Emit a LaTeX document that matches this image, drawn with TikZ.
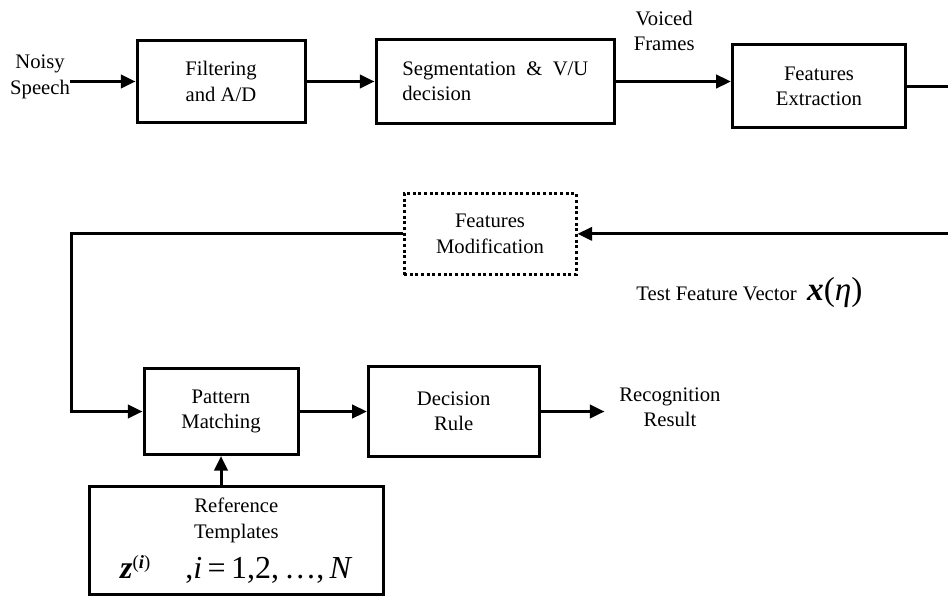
\documentclass[tikz,border=0pt]{standalone}
\usepackage{fontspec}
\setmainfont{Liberation Serif}
\usepackage{tikz}
\usetikzlibrary{positioning, arrows.meta}

\begin{document}
\begin{tikzpicture}[
    x=0.75pt, y=-0.75pt,
    every node/.style={font=\fontsize{15.5}{19}\selectfont},
    block/.style={rectangle, draw=black, line width=2.25pt, align=center},
    dotblock/.style={block, dash pattern=on 2.25pt off 2pt},
    lbl/.style={inner sep=0pt, align=center},
    arr/.style={-{Triangle[length=11pt, width=10pt]}, line width=2.25pt}
]
\useasboundingbox (0,0) rectangle (948,599);

% Blocks
\node[block, minimum width=126pt, minimum height=62pt] (filt) at (221,81.5) {Filtering\\and A/D};
\node[block, align=left, minimum width=179pt, minimum height=63pt, right=51pt of filt] (seg) {Segmentation~~\&~~V/U\\decision};
\node[block, minimum width=130pt, minimum height=62pt, right=86pt of seg, yshift=-3.5pt] (fe) {Features\\Extraction};
\node[dotblock, minimum width=129pt, minimum height=61pt, below=50pt of seg, xshift=-4pt] (mod) {Features\\Modification};
\node[block, minimum width=115.5pt, minimum height=64.5pt, below=182pt of filt] (pm) {Pattern\\Matching};
\node[block, minimum width=128pt, minimum height=68pt, right=50.5pt of pm] (dr) {Decision\\Rule};
\node[block, minimum width=220pt, minimum height=81pt, below=22pt of pm, xshift=11.5pt] (ref) {Reference\\Templates\\[9pt]
  {\fontsize{24}{26}\selectfont\textbf{\textit{z}}\raisebox{7pt}{\fontsize{14}{15}\selectfont(\textbf{\textit{i}})}\hspace{1.1em},\textit{i}\,=\,1,2,\,\ldots,\,\textit{N}}};

% Labels
\node[lbl, left=49pt of filt, yshift=3.4pt] (noisy) {Noisy\\Speech};
\node[lbl, above right=-10pt and 13pt of seg.north east] (voiced) {Voiced\\Frames};
\node[lbl, right=48pt of dr, inner xsep=11pt, yshift=3pt] (rec) {Recognition\\Result};
\node[lbl, below right=1pt and 44pt of mod.south east] (test) {Test Feature Vector\hspace{0.5em}{\fontsize{25}{28}\selectfont\textbf{\textit{x}}(\textit{η})}};
\coordinate (edge) at (951,0);

% Connections
\draw[arr] (noisy.east |- filt.west) -- (filt.west);
\draw[arr] (filt) -- (seg);
\draw[arr] (seg.east) -- (seg.east -| fe.west);
\draw[arr] (fe.east) -- (fe.east -| edge) |- (mod.east);
\draw[arr] (mod.west) -- ++(-331,0) |- (pm.west);
\draw[arr] (pm) -- (dr);
\draw[arr] (dr.east) -- (dr.east -| rec.west);
\draw[arr] (ref.north -| pm.south) -- (pm.south);

\end{tikzpicture}
\end{document}
